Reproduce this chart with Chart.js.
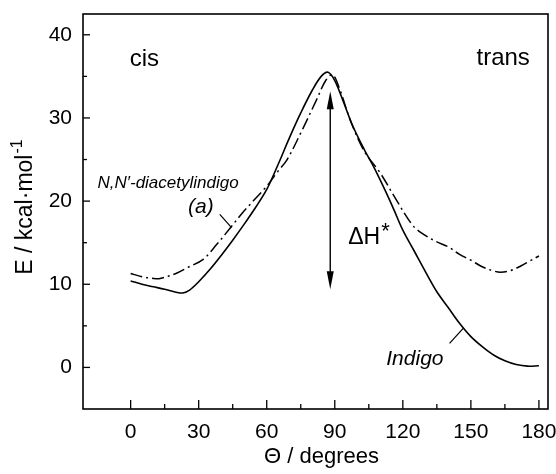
<!DOCTYPE html>
<html>
<head>
<meta charset="utf-8">
<script src="https://cdn.jsdelivr.net/npm/chart.js@4.4.1/dist/chart.umd.min.js"></script>
<style>
  html, body { margin: 0; padding: 0; background: #fff; }
  #wrap { width: 556px; height: 474px; position: relative; }
</style>
</head>
<body>
<div id="wrap"><canvas id="chart"></canvas></div>
<script>
// --- data ---
const indigoTheta = [0, 5, 10, 15, 20, 23, 26, 30, 35, 40, 45, 50, 55, 60, 65, 70, 75, 80, 84, 87, 90, 94, 98, 103, 107, 112, 116, 120, 125, 130, 135, 140, 145, 150, 155, 160, 165, 170, 175, 180];
const indigoE = [10.4, 10.0, 9.7, 9.4, 9.05, 8.95, 9.3, 10.3, 11.8, 13.5, 15.3, 17.2, 19.2, 21.4, 24.4, 27.6, 30.6, 33.3, 35.0, 35.5, 34.5, 31.8, 29.0, 26.2, 24.2, 21.4, 19.0, 16.5, 14.0, 11.5, 9.1, 7.2, 5.3, 3.7, 2.5, 1.5, 0.8, 0.35, 0.15, 0.2];

const diacetylTheta = [0, 5, 10, 13, 20, 25, 32, 38, 44, 50, 54, 60, 65, 69, 75, 82, 86, 89, 92, 97, 103, 110, 117, 124, 128, 135, 140, 145, 150, 155, 160, 163, 167, 172, 176, 180];
const diacetylE = [11.3, 10.9, 10.7, 10.7, 11.3, 12.0, 13.0, 14.8, 16.8, 18.8, 20.0, 21.8, 23.6, 25.0, 28.2, 32.2, 34.5, 35.2, 33.6, 29.6, 26.0, 23.4, 20.2, 17.2, 16.2, 15.1, 14.5, 13.6, 12.9, 12.1, 11.6, 11.45, 11.6, 12.2, 12.8, 13.4];

const xTickValues = [0, 30, 60, 90, 120, 150, 180];
const xMinorTicks = [15, 45, 75, 105, 135, 165];
const yTickValues = [0, 10, 20, 30, 40];
const yMinorTicks = [5, 15, 25, 35];

const FONT = '"Liberation Sans", Arial, sans-serif';

const toPoints = (xs, ys) => xs.map((t, i) => ({ x: t, y: ys[i] }));

// frame, inward ticks, axis titles, arrow and labels
const decorations = {
    id: 'decorations',
    afterDraw(chart) {
        const { ctx, chartArea: a, scales: { x, y } } = chart;
        const px = v => x.getPixelForValue(v);
        const py = v => y.getPixelForValue(v);
        const line = (x1, y1, x2, y2) => {
            ctx.beginPath(); ctx.moveTo(x1, y1); ctx.lineTo(x2, y2); ctx.stroke();
        };

        ctx.save();
        ctx.strokeStyle = '#000';
        ctx.fillStyle = '#000';
        ctx.lineWidth = 1.6;
        ctx.strokeRect(a.left, a.top, a.right - a.left, a.bottom - a.top);

        ctx.lineWidth = 1.3;
        xTickValues.forEach(v => line(px(v), a.bottom, px(v), a.bottom - 9));
        xMinorTicks.forEach(v => line(px(v), a.bottom, px(v), a.bottom - 5));
        yTickValues.forEach(v => line(a.left, py(v), a.left + 7, py(v)));
        yMinorTicks.forEach(v => line(a.left, py(v), a.left + 4, py(v)));

        // axis titles
        ctx.font = '22px ' + FONT;
        ctx.textAlign = 'center';
        ctx.textBaseline = 'alphabetic';
        ctx.fillText('\u0398 / degrees', (a.left + a.right) / 2 + 6, 463);

        ctx.save();
        ctx.translate(32, (a.top + a.bottom) / 2 - 4);
        ctx.rotate(-Math.PI / 2);
        const main = 'E / kcal\u00b7mol';
        ctx.font = '23px ' + FONT;
        const wMain = ctx.measureText(main).width;
        ctx.font = '16px ' + FONT;
        const wSup = ctx.measureText('-1').width;
        const start = -(wMain + wSup) / 2;
        ctx.textAlign = 'left';
        ctx.font = '23px ' + FONT;
        ctx.fillText(main, start, 0);
        ctx.font = '16px ' + FONT;
        ctx.fillText('-1', start + wMain + 1, -10);
        ctx.restore();

        // double arrow for the barrier
        const ax = px(88), top = py(33.2), bot = py(9.4);
        ctx.lineWidth = 1.4;
        line(ax, top + 12, ax, bot - 12);
        ctx.beginPath();
        ctx.moveTo(ax, top); ctx.lineTo(ax - 3.5, top + 18); ctx.lineTo(ax + 3.5, top + 18); ctx.closePath(); ctx.fill();
        ctx.beginPath();
        ctx.moveTo(ax, bot); ctx.lineTo(ax - 3.5, bot - 18); ctx.lineTo(ax + 3.5, bot - 18); ctx.closePath(); ctx.fill();

        // text labels
        ctx.textAlign = 'left';
        ctx.font = '24px ' + FONT;
        ctx.fillText('cis', px(-0.4), py(36.2));
        ctx.textAlign = 'right';
        ctx.fillText('trans', px(176), py(36.4));

        ctx.textAlign = 'left';
        ctx.font = 'italic 17px ' + FONT;
        ctx.fillText('N,N\u2032-diacetylindigo', px(-14.6), py(21.6));
        ctx.font = 'italic 21px ' + FONT;
        ctx.textAlign = 'center';
        ctx.fillText('(a)', px(31), py(18.6));
        ctx.lineWidth = 1.2;
        line(px(39.3), py(18.4), px(44.5), py(16.8));

        ctx.textAlign = 'left';
        ctx.font = 'italic 21px ' + FONT;
        ctx.fillText('Indigo', px(112.7), py(0.3));
        line(px(140.6), py(2.9), px(146.6), py(4.7));

        ctx.font = '23px ' + FONT;
        const dh = '\u0394H';
        ctx.fillText(dh, px(95.9), py(14.8));
        const wdh = ctx.measureText(dh).width;
        ctx.font = '22px ' + FONT;
        ctx.fillText('*', px(95.9) + wdh + 1, py(14.8) - 6);

        ctx.restore();
    }
};

new Chart(document.getElementById('chart'), {
    type: 'scatter',
    data: {
        datasets: [
            {
                label: 'Indigo',
                data: toPoints(indigoTheta, indigoE),
                showLine: true,
                borderColor: '#000',
                borderWidth: 1.6,
                pointRadius: 0,
                tension: 0.35,
                fill: false
            },
            {
                label: 'N,N\u2032-diacetylindigo (a)',
                data: toPoints(diacetylTheta, diacetylE),
                showLine: true,
                borderColor: '#000',
                borderWidth: 1.5,
                borderDash: [12, 4, 2, 4],
                pointRadius: 0,
                tension: 0.35,
                fill: false
            }
        ]
    },
    options: {
        responsive: true,
        maintainAspectRatio: false,
        animation: false,
        events: [],
        layout: { padding: { top: 14, right: 8, left: 0, bottom: 0 } },
        plugins: {
            legend: { display: false },
            tooltip: { enabled: false },
            title: { display: false }
        },
        scales: {
            x: {
                type: 'linear',
                min: -21,
                max: 184,
                grid: { display: false, drawTicks: false },
                border: { display: false },
                afterBuildTicks: s => { s.ticks = xTickValues.map(v => ({ value: v })); },
                afterFit: s => { s.height = 65; s.paddingLeft = 0; s.paddingRight = 0; },
                ticks: {
                    color: '#000',
                    padding: 11,
                    maxRotation: 0,
                    autoSkip: false,
                    font: { family: FONT, size: 21 }
                }
            },
            y: {
                type: 'linear',
                min: -5,
                max: 42.5,
                grid: { display: false, drawTicks: false },
                border: { display: false },
                afterBuildTicks: s => { s.ticks = yTickValues.map(v => ({ value: v })); },
                afterFit: s => { s.width = 83; s.paddingTop = 0; s.paddingBottom = 0; },
                ticks: {
                    color: '#000',
                    padding: 11,
                    autoSkip: false,
                    font: { family: FONT, size: 21 }
                }
            }
        }
    },
    plugins: [decorations]
});
</script>
</body>
</html>
